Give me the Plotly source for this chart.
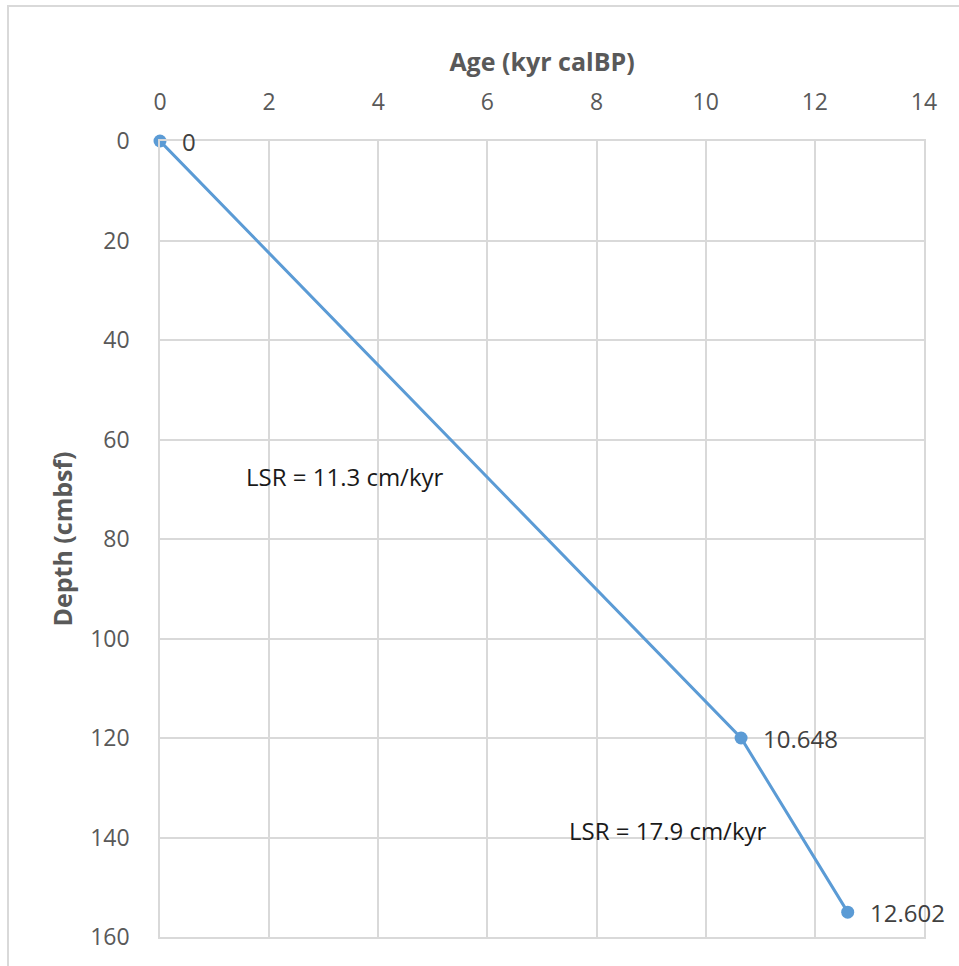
import plotly.graph_objects as go

age_kyr = [0, 10.648, 12.602]
depth_cm = [0, 120, 155]
point_labels = ["0", "10.648", "12.602"]
lsr_texts = ["LSR = 11.3 cm/kyr", "LSR = 17.9 cm/kyr"]
lsr_age = [3.39, 9.31]
lsr_depth = [67.5, 138.6]

FONT = "Open Sans"
BLUE = "#5b9bd5"
GRID = "#d9d9d9"

fig = go.Figure()
fig.add_trace(go.Scatter(
    x=age_kyr, y=depth_cm, mode="lines+markers",
    line=dict(color=BLUE, width=3),
    marker=dict(color=BLUE, size=13),
    cliponaxis=False,
    showlegend=False, hoverinfo="x+y",
))

annotations = []
for a, d, t in zip(age_kyr, depth_cm, point_labels):
    annotations.append(dict(x=a, y=d, xref="x", yref="y", text=t, showarrow=False,
                            xanchor="left", yanchor="middle", xshift=20,
                            font=dict(family=FONT, size=24, color="#404040")))
for a, d, t in zip(lsr_age, lsr_depth, lsr_texts):
    annotations.append(dict(x=a, y=d, xref="x", yref="y", text=t, showarrow=False,
                            xanchor="center", yanchor="middle",
                            font=dict(family=FONT, size=24, color="#1a1a1a")))

fig.update_layout(
    width=959, height=966,
    margin=dict(l=160, r=35, t=141, b=29),
    paper_bgcolor="white", plot_bgcolor="white",
    font=dict(family=FONT, color="#595959"),
    annotations=annotations,
    shapes=[dict(type="rect", xref="paper", yref="paper",
                 x0=(8 - 160) / 764, x1=1.2, y0=-0.2, y1=1 + (141 - 6) / 796,
                 line=dict(color=GRID, width=2), fillcolor="rgba(0,0,0,0)", layer="below")],
)
fig.update_xaxes(
    side="top", range=[0, 14], dtick=2, tick0=0,
    showgrid=True, gridcolor=GRID, gridwidth=1.5,
    zeroline=False, showline=True, mirror=True, linecolor=GRID, linewidth=1.5,
    ticks="outside", ticklen=20, tickcolor="rgba(0,0,0,0)",
    tickfont=dict(family=FONT, size=23, color="#595959"),
    title=dict(text="<b>Age (kyr calBP)</b>", standoff=6,
               font=dict(family=FONT, size=25, color="#595959")),
)
fig.update_yaxes(
    range=[160, 0], dtick=20, tick0=0,
    showgrid=True, gridcolor=GRID, gridwidth=1.5,
    zeroline=False, showline=True, mirror=True, linecolor=GRID, linewidth=1.5,
    ticks="outside", ticklen=24, tickcolor="rgba(0,0,0,0)",
    tickfont=dict(family=FONT, size=23, color="#595959"),
    title=dict(text="<b>Depth (cmbsf)</b>", standoff=10,
               font=dict(family=FONT, size=25, color="#595959")),
)

fig.write_html("out.html", config={"displayModeBar": False},
               post_script="document.body.style.margin='0';document.body.style.overflow='hidden';")
